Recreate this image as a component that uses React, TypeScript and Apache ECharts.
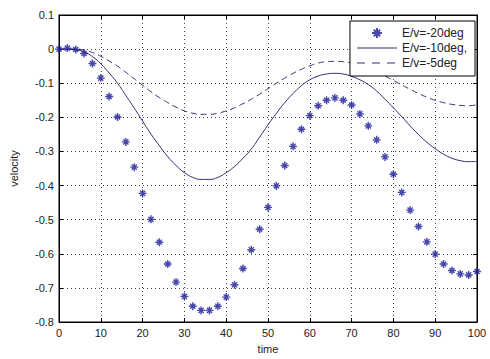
import React, { useEffect, useRef } from "react";
import * as echarts from "echarts";

const times: number[] = [
  0, 2, 4, 6, 8, 10, 12, 14, 16, 18, 20, 22, 24, 26, 28, 30, 32, 34, 36, 38, 40,
  42, 44, 46, 48, 50, 52, 54, 56, 58, 60, 62, 64, 66, 68, 70, 72, 74, 76, 78, 80,
  82, 84, 86, 88, 90, 92, 94, 96, 98, 100,
];

const deg20: number[] = [
  0, 0.003, -0.001, -0.013, -0.042, -0.085, -0.139, -0.199, -0.272, -0.346, -0.423,
  -0.499, -0.566, -0.63, -0.683, -0.725, -0.754, -0.766, -0.766, -0.754, -0.727,
  -0.691, -0.643, -0.588, -0.528, -0.464, -0.401, -0.341, -0.285, -0.235, -0.195,
  -0.166, -0.15, -0.143, -0.15, -0.164, -0.19, -0.225, -0.266, -0.316, -0.367,
  -0.42, -0.472, -0.52, -0.565, -0.601, -0.63, -0.649, -0.659, -0.662, -0.652,
];

const deg10: number[] = [
  0, 0, -0.002, -0.008, -0.022, -0.043, -0.07, -0.1, -0.136, -0.173, -0.211,
  -0.249, -0.283, -0.315, -0.341, -0.362, -0.376, -0.382, -0.382, -0.376, -0.362,
  -0.344, -0.32, -0.293, -0.258, -0.222, -0.188, -0.157, -0.13, -0.107, -0.09,
  -0.079, -0.073, -0.071, -0.073, -0.08, -0.09, -0.104, -0.123, -0.147, -0.172,
  -0.198, -0.225, -0.25, -0.273, -0.292, -0.308, -0.32, -0.327, -0.33, -0.329,
];

const deg5: number[] = [
  0, 0, 0, -0.003, -0.01, -0.021, -0.035, -0.05, -0.068, -0.087, -0.106,
  -0.125, -0.142, -0.157, -0.17, -0.181, -0.188, -0.191, -0.191, -0.188, -0.181,
  -0.172, -0.16, -0.147, -0.132, -0.116, -0.1, -0.085, -0.071, -0.059, -0.049,
  -0.041, -0.037, -0.036, -0.037, -0.041, -0.047, -0.056, -0.066, -0.079, -0.092,
  -0.105, -0.118, -0.13, -0.141, -0.15, -0.157, -0.162, -0.165, -0.166, -0.163,
];

const seriesNames = ["E/v=-20deg", "E/v=-10deg,", "E/v=-5deg"];

const FONT = "Liberation Sans, Arial, sans-serif";
const TXT = "#222";
const LINE_COLOR = "#2e2e72";

const SOLID_ICON = "path://M0,0 M40,10 M0,4.5 L40,4.5 L40,5.5 L0,5.5 Z";
const DASH_ICON =
  "path://M0,0 M40,10 M0,4.5 L8,4.5 L8,5.5 L0,5.5 Z M15,4.5 L23,4.5 L23,5.5 L15,5.5 Z M30,4.5 L38,4.5 L38,5.5 L30,5.5 Z";

export default function App() {
  const ref = useRef<HTMLDivElement>(null);
  useEffect(() => {
    if (!ref.current) return;
    const chart = echarts.init(ref.current, undefined, { renderer: "svg" });
    const pair = (vals: number[]) => times.map((t, i) => [t, vals[i]]);
    const gridLine = { show: true, lineStyle: { color: "#444", type: [1, 3] as any, width: 1 } };
    const tick = { show: true, inside: true, length: 4, lineStyle: { color: "#000" } };
    chart.setOption({
      animation: false,
      backgroundColor: "#fff",
      textStyle: { fontFamily: FONT },
      grid: { left: 57, right: 13, top: 15, bottom: 35, show: true, borderColor: "#000", borderWidth: 1 },
      legend: {
        orient: "vertical",
        right: 15,
        top: 21,
        itemWidth: 40,
        itemHeight: 10,
        itemGap: 3,
        padding: [6, 8, 7, 7],
        backgroundColor: "#fff",
        borderColor: "#000",
        borderWidth: 1,
        borderRadius: 0,
        textStyle: { fontFamily: FONT, fontSize: 12, color: TXT },
        data: [
          { name: seriesNames[0] },
          { name: seriesNames[1], icon: SOLID_ICON, itemStyle: { color: LINE_COLOR, borderWidth: 0 } },
          { name: seriesNames[2], icon: DASH_ICON, itemStyle: { color: LINE_COLOR, borderWidth: 0 } },
        ],
      },
      xAxis: [
        {
          type: "value",
          min: 0,
          max: 100,
          interval: 10,
          name: "time",
          nameLocation: "middle",
          nameGap: 21,
          nameTextStyle: { fontFamily: FONT, fontSize: 11, color: TXT },
          axisLine: { show: true, onZero: false, lineStyle: { color: "#000" } },
          axisTick: tick,
          axisLabel: { fontFamily: FONT, fontSize: 11, color: TXT, margin: 5 },
          splitLine: gridLine,
        },
        {
          type: "value",
          position: "top",
          min: 0,
          max: 100,
          interval: 10,
          axisLine: { show: true, onZero: false, lineStyle: { color: "#000" } },
          axisTick: tick,
          axisLabel: { show: false },
          splitLine: { show: false },
        },
      ],
      yAxis: [
        {
          type: "value",
          min: -0.8,
          max: 0.1,
          interval: 0.1,
          name: "velocity",
          nameLocation: "middle",
          nameGap: 40,
          nameTextStyle: { fontFamily: FONT, fontSize: 11, color: TXT },
          axisLine: { show: true, onZero: false, lineStyle: { color: "#000" } },
          axisTick: tick,
          axisLabel: {
            fontFamily: FONT,
            fontSize: 11,
            color: TXT,
            margin: 5,
            formatter: (v: number) => String(Math.round(v * 10) / 10),
          },
          splitLine: gridLine,
        },
        {
          type: "value",
          position: "right",
          min: -0.8,
          max: 0.1,
          interval: 0.1,
          axisLine: { show: true, onZero: false, lineStyle: { color: "#000" } },
          axisTick: tick,
          axisLabel: { show: false },
          splitLine: { show: false },
        },
      ],
      series: [
        {
          name: seriesNames[0],
          type: "scatter",
          data: pair(deg20),
          symbol: "path://M5,0 L5,10 M0,5 L10,5 M1.8,1.8 L8.2,8.2 M1.8,8.2 L8.2,1.8",
          symbolSize: 8,
          itemStyle: { color: "rgba(0,0,0,0)", borderColor: "#1a1a96", borderWidth: 1.4 },
          z: 3,
        },
        {
          name: seriesNames[1],
          type: "line",
          data: pair(deg10),
          smooth: true,
          showSymbol: false,
          symbol: "none",
          lineStyle: { color: LINE_COLOR, width: 1, type: "solid" },
          itemStyle: { color: LINE_COLOR },
        },
        {
          name: seriesNames[2],
          type: "line",
          data: pair(deg5),
          smooth: true,
          showSymbol: false,
          symbol: "none",
          lineStyle: { color: LINE_COLOR, width: 1, type: [6, 4] as any },
          itemStyle: { color: LINE_COLOR },
        },
      ],
    });
    return () => chart.dispose();
  }, []);
  return (
    <div
      ref={ref}
      style={{ position: "fixed", left: 0, top: 0, width: 490, height: 359, background: "#fff" }}
    />
  );
}
